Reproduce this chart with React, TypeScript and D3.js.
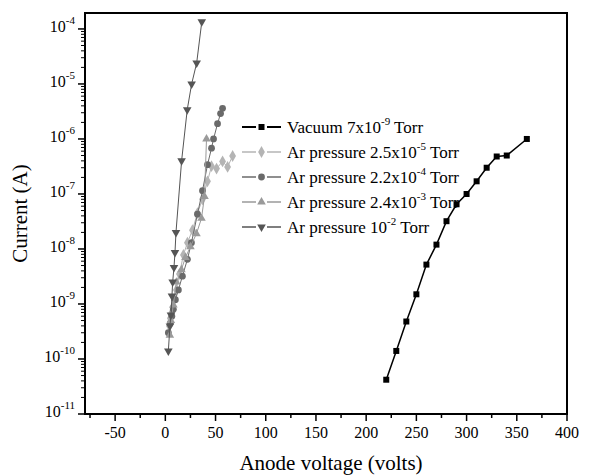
import React from "react";
import * as d3 from "d3";

const xTicks = [-50, 0, 50, 100, 150, 200, 250, 300, 350, 400];
const yTickExps = [-4, -5, -6, -7, -8, -9, -10, -11];

const vacuumV = [220, 230, 240, 250, 260, 270, 280, 290, 300, 310, 320, 330, 340, 360];
const vacuumI = [4.2e-11, 1.4e-10, 4.8e-10, 1.5e-9, 5.2e-9, 1.2e-8, 3.2e-8, 6.5e-8, 1.0e-7, 1.7e-7, 3.0e-7, 4.8e-7, 5.0e-7, 1.0e-6];

const ar25V = [4, 5, 6.5, 7.5, 9, 11, 14, 18, 22, 27, 32, 37, 42, 46, 51, 57, 62, 67];
const ar25I = [4e-10, 5.5e-10, 7e-10, 8.5e-10, 1.2e-9, 1.8e-9, 3.5e-9, 7.8e-9, 1.3e-8, 2.2e-8, 4.5e-8, 8e-8, 1.7e-7, 3.2e-7, 2.9e-7, 3.9e-7, 3.1e-7, 4.9e-7];

const ar22V = [3, 5, 6.5, 8, 10, 13, 17, 22, 26, 32, 37, 42, 46, 48, 52, 55, 57];
const ar22I = [3e-10, 4.5e-10, 6e-10, 8e-10, 1.2e-9, 1.8e-9, 3.2e-9, 6.5e-9, 1.3e-8, 4.3e-8, 1.15e-7, 3.4e-7, 6.8e-7, 1.0e-6, 1.9e-6, 2.9e-6, 3.6e-6];

const ar24V = [4.5, 5.5, 8, 11, 16, 20, 25, 31, 36, 39, 41];
const ar24I = [2.7e-10, 5e-10, 9.6e-10, 2.5e-9, 4.2e-9, 7e-9, 1.1e-8, 1.9e-8, 3.6e-8, 9e-8, 1.0e-6];

const ar1V = [3, 4.6, 5.6, 6.6, 7.3, 8.6, 9.6, 10.6, 16.2, 21.8, 26.2, 31.2, 36.3];
const ar1I = [1.4e-10, 4e-10, 6.3e-10, 1.4e-9, 2.5e-9, 4.6e-9, 8.6e-9, 2.0e-8, 4.0e-7, 3.4e-6, 1.0e-5, 2.4e-5, 1.35e-4];

type Series = {
  v: number[];
  i: number[];
  color: string;
  symbol: string;
  base: string;
  exp: string;
  tail: string;
  lw: number;
};

const series: Series[] = [
  { v: vacuumV, i: vacuumI, color: "#000000", symbol: "square", base: "Vacuum 7x10", exp: "-9", tail: " Torr", lw: 1.5 },
  { v: ar25V, i: ar25I, color: "#b4b4b4", symbol: "diamond", base: "Ar pressure 2.5x10", exp: "-5", tail: " Torr", lw: 1 },
  { v: ar22V, i: ar22I, color: "#6a6a6a", symbol: "circle", base: "Ar pressure 2.2x10", exp: "-4", tail: " Torr", lw: 1 },
  { v: ar24V, i: ar24I, color: "#9a9a9a", symbol: "triangle", base: "Ar pressure 2.4x10", exp: "-3", tail: " Torr", lw: 1 },
  { v: ar1V, i: ar1I, color: "#555555", symbol: "down", base: "Ar pressure 10", exp: "-2", tail: " Torr", lw: 1 },
];

const W = 590;
const H = 476;
const L = 85, R = 567, T = 13, B = 414;

function symbolPath(kind: string): { d: string; rot: number } {
  const gen = d3.symbol();
  switch (kind) {
    case "square":
      return { d: gen.type(d3.symbolSquare).size(36)()!, rot: 0 };
    case "diamond":
      return { d: gen.type(d3.symbolDiamond).size(40)()!, rot: 0 };
    case "circle":
      return { d: gen.type(d3.symbolCircle).size(36)()!, rot: 0 };
    case "triangle":
      return { d: gen.type(d3.symbolTriangle).size(32)()!, rot: 0 };
    default:
      return { d: gen.type(d3.symbolTriangle).size(32)()!, rot: 180 };
  }
}

export default function App() {
  const x = d3.scaleLinear().domain([-80, 400]).range([L, R]);
  const y = d3.scaleLog().domain([1e-11, Math.pow(10, -3.71)]).range([B, T]);
  const line = d3
    .line<[number, number]>()
    .x((d) => x(d[0]))
    .y((d) => y(d[1]));

  const minorX = d3.range(-75, 401, 25).filter((v) => v % 50 !== 0);
  const minorY: number[] = [];
  for (let e = -11; e < -3; e++) {
    for (let k = 2; k <= 9; k++) {
      const val = k * Math.pow(10, e);
      if (y(val) >= T) minorY.push(val);
    }
  }

  const font = "'Liberation Serif', 'Times New Roman', serif";

  return (
    <svg width={W} height={H} style={{ position: "absolute", left: 0, top: 0, background: "#fff" }} fontFamily={font}>
      <rect x={0} y={0} width={W} height={H} fill="#fff" />
      {/* series */}
      {series.map((s, si) => {
        const pts: [number, number][] = s.v.map((v, k) => [v, s.i[k]]);
        const sym = symbolPath(s.symbol);
        return (
          <g key={si}>
            <path d={line(pts)!} fill="none" stroke={s.color} strokeWidth={s.lw} />
            {pts.map((p, k) => (
              <path
                key={k}
                d={sym.d}
                transform={`translate(${x(p[0])},${y(p[1])}) rotate(${sym.rot})`}
                fill={s.color}
              />
            ))}
          </g>
        );
      })}
      {/* frame */}
      <rect x={L} y={T} width={R - L} height={B - T} fill="none" stroke="#000" strokeWidth={2} />
      {/* x ticks */}
      {xTicks.map((t) => (
        <g key={t}>
          <line x1={x(t)} x2={x(t)} y1={B} y2={B + 7} stroke="#000" strokeWidth={1.5} />
          <text x={x(t)} y={B + 24} textAnchor="middle" fontSize={16}>
            {t}
          </text>
        </g>
      ))}
      {minorX.map((t) => (
        <line key={t} x1={x(t)} x2={x(t)} y1={B} y2={B + 4} stroke="#000" strokeWidth={1.5} />
      ))}
      {/* y ticks */}
      {yTickExps.map((e) => (
        <g key={e}>
          <line x1={L - 7} x2={L} y1={y(Math.pow(10, e))} y2={y(Math.pow(10, e))} stroke="#000" strokeWidth={1.5} />
          <text x={L - 10} y={y(Math.pow(10, e)) + 3} textAnchor="end" fontSize={16}>
            10
            <tspan dy={-8} fontSize={11}>
              {e}
            </tspan>
          </text>
        </g>
      ))}
      {minorY.map((v, k) => (
        <line key={k} x1={L - 4} x2={L} y1={y(v)} y2={y(v)} stroke="#000" strokeWidth={1} />
      ))}
      {/* axis titles */}
      <text x={(L + R) / 2 + 5} y={470} textAnchor="middle" fontSize={21}>
        Anode voltage (volts)
      </text>
      <text transform={`translate(27,${(T + B) / 2}) rotate(-90)`} textAnchor="middle" fontSize={21}>
        Current (A)
      </text>
      {/* legend */}
      {series.map((s, si) => {
        const ly = 127 + si * 25;
        const sym = symbolPath(s.symbol);
        return (
          <g key={si}>
            <line x1={242} x2={256} y1={ly} y2={ly} stroke={s.color} strokeWidth={s.lw + 0.5} />
            <line x1={267} x2={281} y1={ly} y2={ly} stroke={s.color} strokeWidth={s.lw + 0.5} />
            <path d={sym.d} transform={`translate(261.5,${ly}) rotate(${sym.rot})`} fill={s.color} />
            <text x={287} y={ly + 6} fontSize={17}>
              {s.base}
              <tspan dy={-8} fontSize={11}>
                {s.exp}
              </tspan>
              <tspan dy={8}>{s.tail}</tspan>
            </text>
          </g>
        );
      })}
    </svg>
  );
}
